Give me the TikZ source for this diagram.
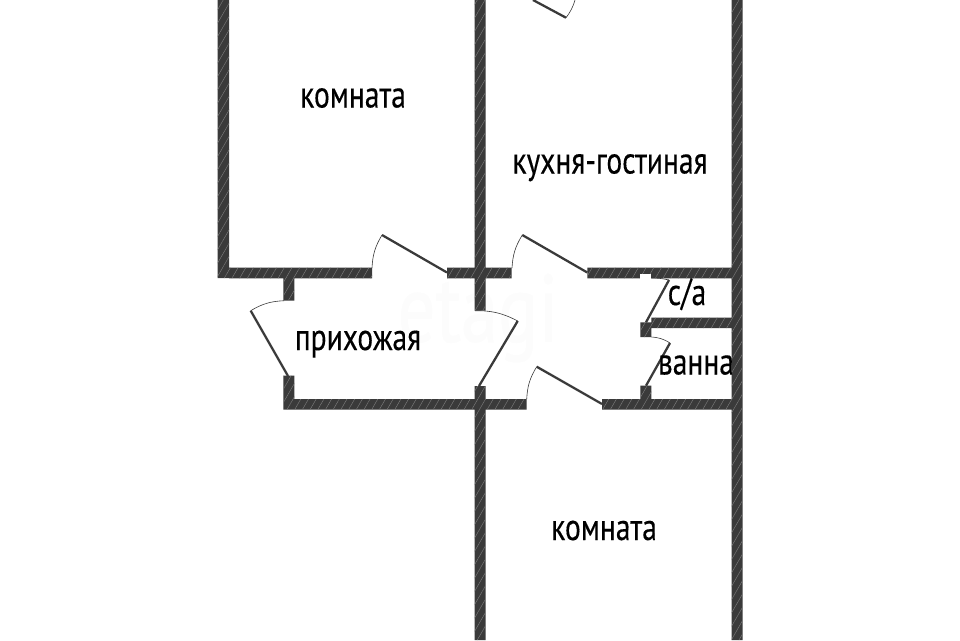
\documentclass[tikz,border=0pt]{standalone}
\usepackage{fontspec}
\setmainfont[FakeStretch=0.78,FakeBold=0.25]{PT Sans}
\usetikzlibrary{patterns.meta}
\definecolor{walldark}{HTML}{3A3A3A}
\definecolor{wallhatch}{HTML}{808080}
\tikzset{
  wall/.style={preaction={fill=walldark}, pattern={Lines[angle=60,distance=5pt,line width=.3pt]}, pattern color=wallhatch},
  leaf/.style={draw=walldark, line width=1.7pt},
  swing/.style={draw=walldark, line width=.45pt},
  room/.style={font=\fontsize{28.4}{32}\selectfont, text=black, inner sep=0pt, anchor=base},
}
\begin{document}
\begin{tikzpicture}[x=0.75pt, y=-0.75pt]
    \useasboundingbox (0, 0) rectangle (960, 640);
    \fill[white] (0, 0) rectangle (960, 640);
    % faint mark
    \node[font=\fontsize{72}{72}\selectfont, text=black!1, inner sep=0pt] (mark) at (478, 318) {etagi};
    % walls
    \path[wall] (217.5, 0) rectangle (229, 278)
      (229, 267.7) rectangle (372, 278.3)
      (447, 267.7) rectangle (511.7, 278.3)
      (474.7, 0) rectangle (485.7, 310.7)
      (283.3, 278.3) rectangle (294.3, 300.7)
      (283.3, 375.7) rectangle (294.3, 399)
      (283.3, 399) rectangle (526.7, 409.7)
      (474.7, 386) rectangle (485.7, 640)
      (587.3, 267.7) rectangle (731.7, 278.3)
      (731.7, 0) rectangle (742.7, 640)
      (651.3, 317.7) rectangle (731.7, 328)
      (640.3, 322.3) rectangle (651.3, 337)
      (640.3, 385.7) rectangle (651.3, 399)
      (602, 399) rectangle (731.7, 409.7);
    \fill[white] (640.3, 273.5) rectangle (651.3, 278.5);
    % doors
    \draw[leaf] (447, 272.5) -- (382, 235);
    \draw[swing] (382, 235) to[bend right=14] (372, 268);
    \draw[leaf] (587.3, 272.5) -- (522.3, 235);
    \draw[swing] (522.3, 235) to[bend right=14] (512, 268);
    \draw[leaf] (288, 376) -- (250.7, 310.7);
    \draw[swing] (250.7, 310.7) to[bend left=14] (284, 300.7);
    \draw[leaf] (479, 386) -- (517.7, 321);
    \draw[swing] (517.7, 321) to[bend right=14] (475, 310.7);
    \draw[leaf] (602, 404) -- (536.7, 366.7);
    \draw[swing] (536.7, 366.7) to[bend right=14] (526.7, 399);
    \draw[leaf] (646, 322.3) -- (669, 280);
    \draw[swing] (669, 280) to[bend right=6] (651.3, 278);
    \draw[leaf] (646, 385.7) -- (670, 343);
    \draw[swing] (670, 343) to[bend right=14] (651.3, 337);
    \draw[leaf] (533, 0) -- (566, 17.7);
    \draw[swing] (566, 17.7) to[bend right=10] (575, 0);
    % rooms
    \node[room] (roomA) at (353, 107.5) {комната};
    \node[room] (kitchen) at (610, 173.5) {кухня-гостиная};
    \node[room] (hall) at (358, 350) {прихожая};
    \node[room] (wc) at (687, 305) {с/а};
    \node[room] (bath) at (696, 374.5) {ванна};
    \node[room] (roomB) at (604, 540) {комната};
\end{tikzpicture}
\end{document}
